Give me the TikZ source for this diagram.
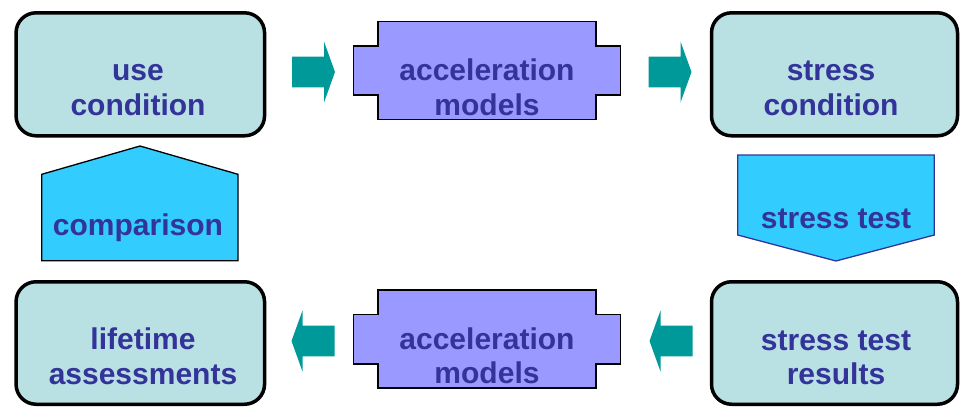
\documentclass[tikz,border=0pt]{standalone}
\usepackage{fontspec}
\setmainfont{Liberation Sans}
\definecolor{boxfill}{HTML}{B9E0E3}
\definecolor{accfill}{HTML}{9999FF}
\definecolor{stagefill}{HTML}{33CCFF}
\definecolor{arrowteal}{HTML}{009999}
\definecolor{ink}{HTML}{333399}
\tikzset{
    condbox/.style={draw=black,fill=boxfill,line width=3.5pt,rounded corners=20pt,
      minimum width=248.5pt,minimum height=123pt,inner sep=0pt},
    accshape/.style={draw=black,fill=accfill,line width=1.7pt},
    stageshape/.style={fill=stagefill,line width=1.3pt},
    boxtext/.style={text=ink,font=\fontsize{30}{34.5}\selectfont\bfseries,
      align=center,anchor=base,inner sep=0pt},
    fatarrow/.pic={
      \fill[arrowteal] (0,-15.3)--(32,-15.3)--(32,-30.5)--(43,0)--(32,30.5)
        --(32,15.3)--(0,15.3)--cycle;},
    accelbox/.pic={
      \draw[accshape] (-109.2,-48.9)--(109.2,-48.9)--(109.2,-24.8)--(133.6,-24.8)
        --(133.6,24.8)--(109.2,24.8)--(109.2,48.9)--(-109.2,48.9)--(-109.2,24.8)
        --(-133.6,24.8)--(-133.6,-24.8)--(-109.2,-24.8)--cycle;}
}

\begin{document}
\begin{tikzpicture}[x=1pt,y=-1pt]
  \useasboundingbox (0,0) rectangle (960,407);
  % condition and result boxes
  \node[condbox] (use) at (140.3,74.3) {};
  \node[condbox,minimum width=246pt] (stress) at (834.5,74.3) {};
  \node[condbox,minimum height=122.5pt] (life) at (140.3,343) {};
  \node[condbox,minimum width=246pt,minimum height=122.5pt] (results) at (834.5,343) {};
  % acceleration models
  \pic at (487,70.5) {accelbox};
  \pic at (487,339.2) {accelbox};
  % comparison and stress test
  \draw[stageshape,draw=black] (41.7,260.7)--(41.7,174.3)--(140,146)--(238,174.3)
    --(238,260.7)--cycle;
  \draw[stageshape,draw=ink] (737.7,155)--(934.3,155)--(934.3,235)--(836,261)
    --(737.7,235)--cycle;
  % block arrows
  \pic at (292,72) {fatarrow};
  \pic at (648.5,72) {fatarrow};
  \pic[xscale=-1] at (334.5,341) {fatarrow};
  \pic[xscale=-1] at (692.5,341) {fatarrow};
  % texts
  \node[boxtext] (usetxt) at (138,115) {use\\condition};
  \node[boxtext] (acctxt1) at (487,115) {acceleration\\models};
  \node[boxtext] (stresstxt) at (831,115) {stress\\condition};
  \node[boxtext] (comptxt) at (138,235) {comparison};
  \node[boxtext] (testtxt) at (836,228.5) {stress test};
  \node[boxtext] (lifetxt) at (143,384.2) {lifetime\\assessments};
  \node[boxtext] (acctxt2) at (487,383.5) {acceleration\\models};
  \node[boxtext] (resulttxt) at (836,384.5) {stress test\\results};
\end{tikzpicture}
\end{document}
